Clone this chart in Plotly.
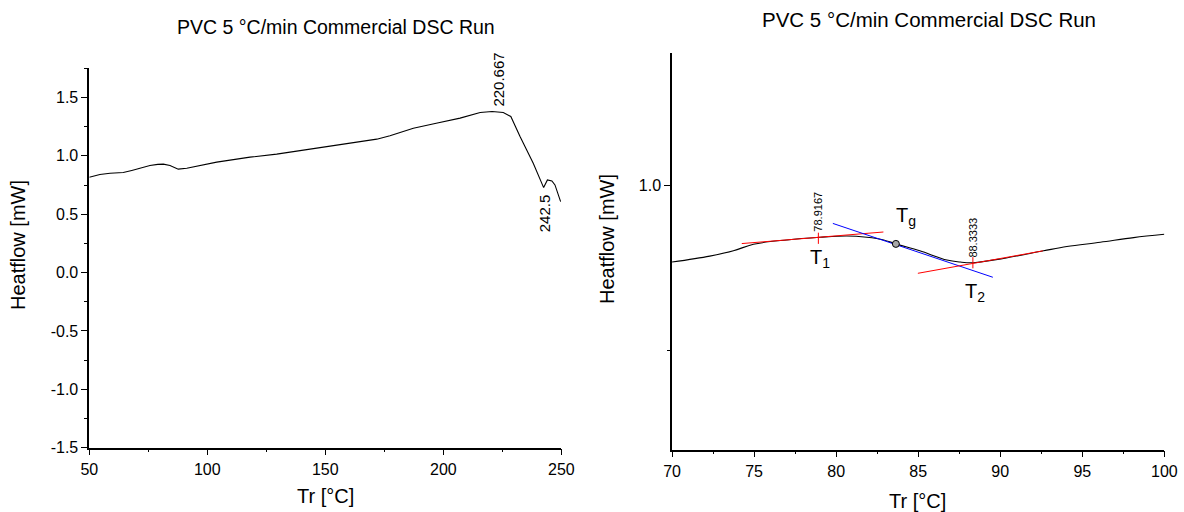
import plotly.graph_objects as go

# --- Full DSC run (50-250 °C) ---
full_T = [50, 54.5, 58.8, 61.5, 64.4, 68.0, 71.5, 75.7, 79.0, 81.4, 84.2, 87.7, 91.3,
          104, 118.1, 129.4, 139.3, 153.4, 165.0, 171.8, 177.4, 187.3, 197.0, 207.1,
          215.6, 220.667, 225.4, 228.6, 232.5, 238.1, 242.5, 244.1, 246.0, 247.3, 249.7]
full_H = [0.817, 0.840, 0.851, 0.853, 0.857, 0.875, 0.894, 0.917, 0.927, 0.929, 0.917,
          0.886, 0.894, 0.946, 0.989, 1.015, 1.045, 1.086, 1.118, 1.143, 1.172, 1.237,
          1.280, 1.323, 1.371, 1.380, 1.371, 1.337, 1.166, 0.937, 0.728, 0.794, 0.785,
          0.751, 0.608]
peak_T, peak_H = 220.667, 1.380
dip_T, dip_H = 242.5, 0.728
full_yticks = [-1.5, -1.0, -0.5, 0.0, 0.5, 1.0, 1.5]

# --- Glass transition region (70-100 °C) ---
gt_T = [70, 72.3, 73.74, 74.96, 77.0, 79.02, 80.65, 81.87, 82.9, 83.64, 85.1, 86.75,
        87.56, 88.37, 90.2, 92.64, 94.06, 96.1, 98.13, 100]
gt_H = [0.768, 0.786, 0.802, 0.822, 0.835, 0.843, 0.847, 0.843, 0.835, 0.823, 0.802,
        0.774, 0.768, 0.766, 0.779, 0.802, 0.815, 0.828, 0.842, 0.852]

# tangent / baseline construction lines
base1_T, base1_H = [74.25, 82.88], [0.824, 0.859]
infl_T, infl_H = [79.8, 89.55], [0.885, 0.722]
base2_T, base2_H = [84.98, 92.6], [0.734, 0.802]

T1, H1 = 78.9167, 0.840
T2, H2 = 88.3333, 0.766
Tg, Hg = 83.64, 0.823

title_text = "PVC 5 °C/min Commercial DSC Run"
x_title = "Tr [°C]"
y_title = "Heatflow [mW]"

FONT = "Liberation Sans, Arial, sans-serif"
fig = go.Figure()

# left panel
fig.add_trace(go.Scatter(x=full_T, y=full_H, mode="lines", line=dict(color="black", width=1.1),
                         xaxis="x", yaxis="y", showlegend=False, hoverinfo="skip"))

# right panel
fig.add_trace(go.Scatter(x=gt_T, y=gt_H, mode="lines", line=dict(color="black", width=1.1, shape="spline"),
                         xaxis="x2", yaxis="y2", showlegend=False))
for xs, ys, col in [(base1_T, base1_H, "#ff0000"), (infl_T, infl_H, "#0000ff"), (base2_T, base2_H, "#ff0000")]:
    fig.add_trace(go.Scatter(x=xs, y=ys, mode="lines", line=dict(color=col, width=1),
                             xaxis="x2", yaxis="y2", showlegend=False))
fig.add_trace(go.Scatter(x=[T1, T2], y=[H1, H2], mode="markers",
                         marker=dict(symbol="line-ns-open", size=8, color="#ff0000",
                                     line=dict(color="#ff0000", width=1)),
                         xaxis="x2", yaxis="y2", showlegend=False))
fig.add_trace(go.Scatter(x=[Tg], y=[Hg], mode="markers",
                         marker=dict(symbol="circle", size=7, color="#a8a8a8", line=dict(color="black", width=1)),
                         xaxis="x2", yaxis="y2", showlegend=False))

axis_common = dict(showline=True, linecolor="black", linewidth=1.6, mirror=False, showgrid=False,
                   zeroline=False, ticks="outside", ticklen=6, tickwidth=1.4, tickcolor="black",
                   automargin=False, tickfont=dict(family=FONT, size=16, color="black"))
minor_common = dict(ticks="outside", ticklen=3, tickwidth=1.2, tickcolor="black", showgrid=False)

fig.update_layout(
    template="none",
    width=1184, height=512, margin=dict(l=0, r=0, t=0, b=0, autoexpand=False),
    paper_bgcolor="white", plot_bgcolor="white",
    xaxis=dict(domain=[0.0754, 0.4741], range=[50, 250], dtick=50, tick0=50, anchor="y",
               minor=dict(dtick=25, **minor_common), **axis_common),
    yaxis=dict(domain=[0.1256, 0.8666], range=[-1.5, 1.75], tickmode="array", tickvals=full_yticks,
               ticktext=[f"{v:.1f}" for v in full_yticks],
               anchor="x", minor=dict(tickmode="linear", tick0=0, dtick=0.25, **minor_common), **axis_common),
    xaxis2=dict(domain=[0.5676, 0.9834], range=[70, 100], dtick=5, tick0=70, anchor="y2",
                minor=dict(dtick=2.5, **minor_common), **axis_common),
    yaxis2=dict(domain=[0.1217, 0.8959], range=[0.2, 1.4], tickmode="array", tickvals=[1.0],
                ticktext=["1.0"], anchor="x2", minor=dict(tickmode="array", tickvals=[0.5], **minor_common),
                **axis_common),
)

ann = []
# titles
ann.append(dict(text=title_text, x=336, y=27, font=dict(size=19.5)))
ann.append(dict(text=title_text, x=929, y=19, font=dict(size=20.5)))
# axis titles
ann.append(dict(text=x_title, x=325, y=496, font=dict(size=20)))
ann.append(dict(text=x_title, x=917, y=501, font=dict(size=20)))
ann.append(dict(text=y_title, x=18, y=245, font=dict(size=20), textangle=-90))
ann.append(dict(text=y_title, x=607, y=239, font=dict(size=20), textangle=-90))
layout_ann = []
for a in ann:
    layout_ann.append(dict(text=a["text"], xref="paper", yref="paper",
                           x=a["x"] / 1184, y=1 - a["y"] / 512, xanchor="center", yanchor="middle",
                           showarrow=False, textangle=a.get("textangle", 0),
                           font=dict(family=FONT, color="black", **a["font"])))

# value labels on the full run
layout_ann.append(dict(text=f"{peak_T:g}", x=peak_T, y=peak_H, xref="x", yref="y", showarrow=False,
                       textangle=-90, xanchor="center", yanchor="bottom", xshift=6, yshift=3,
                       font=dict(family=FONT, size=15, color="black")))
layout_ann.append(dict(text=f"{dip_T:g}", x=dip_T, y=dip_H, xref="x", yref="y", showarrow=False,
                       textangle=-90, xanchor="center", yanchor="top", xshift=1, yshift=-5,
                       font=dict(family=FONT, size=15, color="black")))
# glass transition labels
layout_ann.append(dict(text=f"{T1:.4f}", x=T1, y=H1, xref="x2", yref="y2", showarrow=False,
                       textangle=-90, xanchor="center", yanchor="bottom", yshift=5,
                       font=dict(family=FONT, size=11, color="black")))
layout_ann.append(dict(text=f"{T2:.4f}", x=T2, y=H2, xref="x2", yref="y2", showarrow=False,
                       textangle=-90, xanchor="center", yanchor="bottom", yshift=3,
                       font=dict(family=FONT, size=11, color="black")))
layout_ann.append(dict(text="T<sub>1</sub>", x=T1, y=H1, xref="x2", yref="y2", showarrow=False,
                       xanchor="center", yanchor="top", xshift=2, yshift=-6,
                       font=dict(family=FONT, size=20, color="black")))
layout_ann.append(dict(text="T<sub>g</sub>", x=Tg, y=Hg, xref="x2", yref="y2", showarrow=False,
                       xanchor="left", yanchor="bottom", xshift=-2, yshift=13,
                       font=dict(family=FONT, size=20, color="black")))
layout_ann.append(dict(text="T<sub>2</sub>", x=T2, y=H2, xref="x2", yref="y2", showarrow=False,
                       xanchor="center", yanchor="top", xshift=2, yshift=-15,
                       font=dict(family=FONT, size=20, color="black")))
fig.update_layout(annotations=layout_ann)

fig.write_html("out.html")
